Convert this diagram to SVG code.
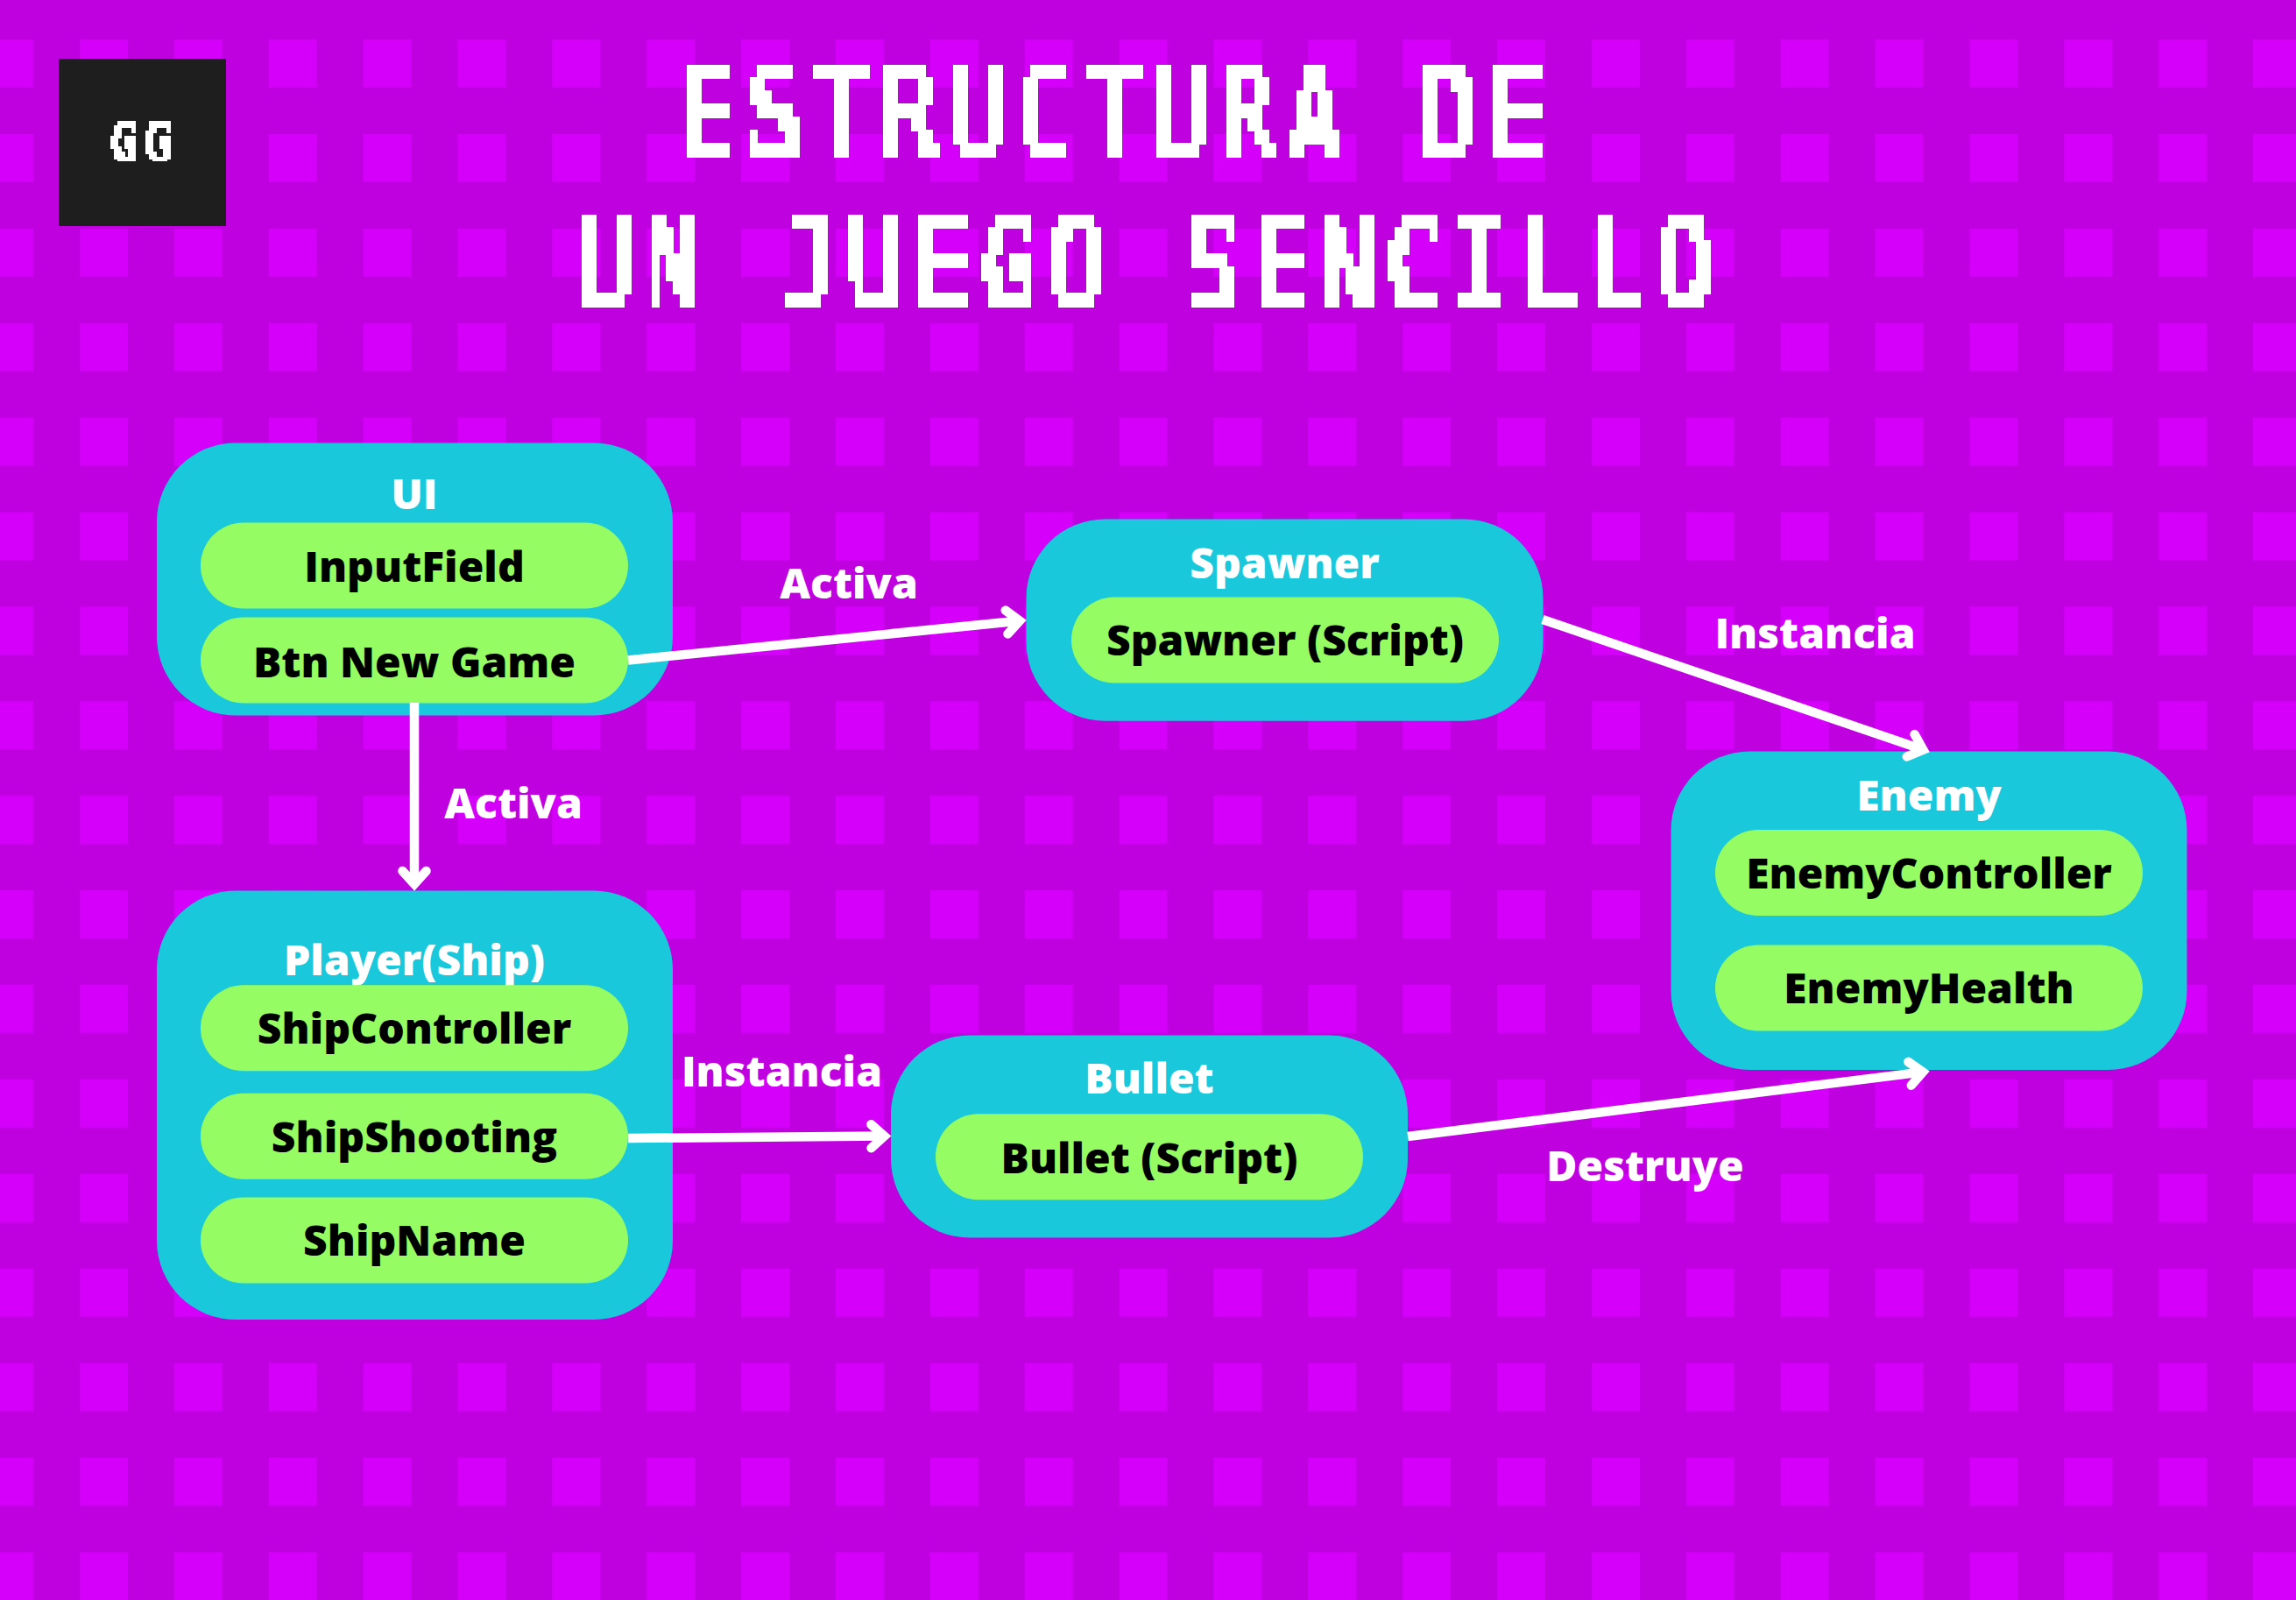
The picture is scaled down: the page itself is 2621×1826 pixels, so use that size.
<svg xmlns="http://www.w3.org/2000/svg" width="2621" height="1826" viewBox="0 0 2621 1826">
<style>
.box{fill:#1ac8dc}
.pill{fill:#96fc64}
text{font-family:"Open Sans","Noto Sans","Liberation Sans",sans-serif;font-weight:800;font-size:48px;text-anchor:middle}
.w{fill:#fff}
.b{fill:#000}
.ln{fill:none;stroke:#fff;stroke-width:10.5;marker-end:url(#arr)}
.ttl{font-family:"DejaVu Sans Mono","Liberation Mono",monospace;font-weight:400;font-size:148px;letter-spacing:20.9px;fill:#fff;stroke:#fff;stroke-width:8}
.gg{font-family:"DejaVu Sans Mono","Liberation Mono",monospace;font-weight:400;font-size:63px;letter-spacing:12px;fill:#fff;stroke:#fff;stroke-width:3.5}
</style>
<defs>
<pattern id="sq" patternUnits="userSpaceOnUse" x="91" y="45" width="107.87" height="107.9"><rect width="55" height="55" fill="#d400f9"/></pattern>
<marker id="arr" markerUnits="userSpaceOnUse" overflow="visible" refX="0" refY="0" markerWidth="40" markerHeight="40" orient="auto"><path d="M-15,-13.5 L0,0 L-15,13.5" fill="none" stroke="#fff" stroke-width="10.5" stroke-linecap="round" stroke-linejoin="miter"/></marker>
<filter id="px1" filterUnits="userSpaceOnUse" primitiveUnits="userSpaceOnUse" x="640" y="74" width="1340" height="108" color-interpolation-filters="sRGB">
<feFlood x="644" y="81" width="1" height="1" flood-color="#000"/>
<feComposite x="640" y="74" width="8" height="15.43" operator="over"/>
<feTile x="640" y="74" width="1340" height="108" result="g"/>
<feComposite in="SourceGraphic" in2="g" operator="in"/>
<feMorphology operator="dilate" radius="4 8"/>
<feComponentTransfer><feFuncA type="linear" slope="60" intercept="-25"/></feComponentTransfer>
</filter>
<filter id="px2" filterUnits="userSpaceOnUse" primitiveUnits="userSpaceOnUse" x="640" y="245" width="1340" height="108" color-interpolation-filters="sRGB">
<feFlood x="644" y="252" width="1" height="1" flood-color="#000"/>
<feComposite x="640" y="245" width="8" height="15.43" operator="over"/>
<feTile x="640" y="245" width="1340" height="108" result="g"/>
<feComposite in="SourceGraphic" in2="g" operator="in"/>
<feMorphology operator="dilate" radius="4 8"/>
<feComponentTransfer><feFuncA type="linear" slope="60" intercept="-25"/></feComponentTransfer>
</filter>
<filter id="px3" filterUnits="userSpaceOnUse" primitiveUnits="userSpaceOnUse" x="126" y="138" width="76" height="46" color-interpolation-filters="sRGB">
<feFlood x="128" y="141" width="1" height="1" flood-color="#000"/>
<feComposite x="126" y="138" width="4" height="6.57" operator="over"/>
<feTile x="126" y="138" width="76" height="46" result="g"/>
<feComposite in="SourceGraphic" in2="g" operator="in"/>
<feMorphology operator="dilate" radius="2 4"/>
<feComponentTransfer><feFuncA type="linear" slope="60" intercept="-25"/></feComponentTransfer>
</filter>
</defs>
<rect id="background" width="2621" height="1826" fill="#bf00df"/>
<rect id="squares" width="2621" height="1826" fill="url(#sq)"/>

<g id="logo"><rect x="67" y="67" width="191" height="191" fill="#1e1e1e"/><g filter="url(#px3)"><text class="gg" transform="translate(166,183.7) scale(.78,1)">GG</text></g></g>

<g id="title">
<g filter="url(#px1)"><text class="ttl" transform="translate(1277,182) scale(.7,1)">ESTRUCTURA DE</text></g>
<g filter="url(#px2)"><text class="ttl" transform="translate(1314,353) scale(.7,1)">UN JUEGO SENCILLO</text></g>
</g>

<g id="node-ui">
<rect class="box" x="179" y="505.5" width="589" height="311" rx="90"/>
<text class="w" x="473" y="581">UI</text>
<rect class="pill" x="229" y="596.5" width="488" height="98" rx="49"/>
<text class="b" x="473" y="664">InputField</text>
<rect class="pill" x="229" y="704.5" width="488" height="98" rx="49"/>
<text class="b" x="473" y="773">Btn New Game</text>
</g>

<g id="node-player">
<rect class="box" x="179" y="1016.5" width="589" height="489.5" rx="90"/>
<text class="w" x="473" y="1113">Player(Ship)</text>
<rect class="pill" x="229" y="1124.2" width="488" height="98" rx="49"/>
<text class="b" x="473" y="1191.4">ShipController</text>
<rect class="pill" x="229" y="1247.8" width="488" height="98" rx="49"/>
<text class="b" x="473" y="1314.7">ShipShooting</text>
<rect class="pill" x="229" y="1366.5" width="488" height="98" rx="49"/>
<text class="b" x="473" y="1433">ShipName</text>
</g>

<g id="node-spawner">
<rect class="box" x="1171.5" y="592.4" width="590" height="230.4" rx="90"/>
<text class="w" x="1466.5" y="659.5">Spawner</text>
<rect class="pill" x="1223" y="681.5" width="488" height="98" rx="49"/>
<text class="b" x="1467" y="748">Spawner (Script)</text>
</g>

<g id="node-bullet">
<rect class="box" x="1017" y="1181.5" width="590" height="231" rx="90"/>
<text class="w" x="1312" y="1248.2">Bullet</text>
<rect class="pill" x="1068" y="1271.2" width="488" height="98" rx="49"/>
<text class="b" x="1312" y="1338.5">Bullet (Script)</text>
</g>

<g id="node-enemy">
<rect class="box" x="1907.5" y="857.5" width="589" height="363.6" rx="90"/>
<text class="w" x="2202" y="925">Enemy</text>
<rect class="pill" x="1958" y="947" width="488" height="98" rx="49"/>
<text class="b" x="2202" y="1014">EnemyController</text>
<rect class="pill" x="1958" y="1078.5" width="488" height="98" rx="49"/>
<text class="b" x="2202" y="1145">EnemyHealth</text>
</g>

<g id="connectors">
<path class="ln" d="M717,753.5 L1164,708.5"/>
<path class="ln" d="M473,802 L473,1009"/>
<path class="ln" d="M1761,707 L2195.4,855.6"/>
<path class="ln" d="M717,1299 L1009.5,1296.6"/>
<path class="ln" d="M1607,1297 L2195,1223.4"/>
</g>

<g id="labels">
<text class="w" x="969" y="683">Activa</text>
<text class="w" x="586" y="934">Activa</text>
<text class="w" x="2072" y="740">Instancia</text>
<text class="w" x="892.5" y="1240">Instancia</text>
<text class="w" x="1878" y="1348">Destruye</text>
</g>
</svg>
